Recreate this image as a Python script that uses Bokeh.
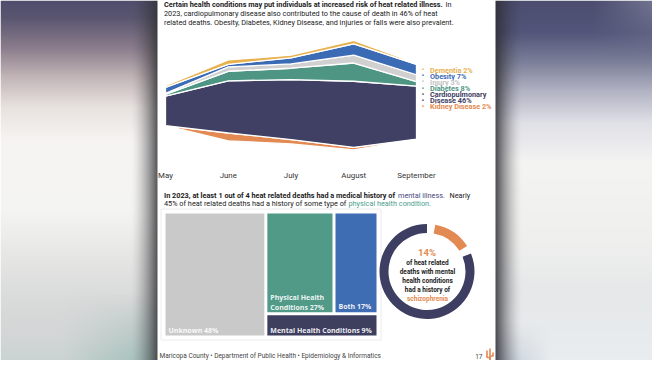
import numpy as np
from bokeh.plotting import figure
from bokeh.models import Range1d
from bokeh.core.properties import value
from bokeh.embed import file_html
from bokeh.resources import INLINE

# ---------------- data ----------------
months = ["May", "June", "July", "August", "September"]
# stream layers, bottom -> top (deaths per month)
kidney = [0, 9, 5, 3, 0]
cardio = [34, 60, 69, 76, 61]
diabetes = [2, 11, 13, 21, 5]
injury = [1, 5, 5, 9, 8]
obesity = [7, 3, 7, 13, 12]
dementia = [2, 5, 3, 4, 1]
stream_center = [-6, 0, 1, 6, -1]

legend_labels = ["Dementia 2%", "Obesity 7%", "Injury 3%", "Diabetes 8%",
                 "Cardiopulmonary", "Disease 46%", "Kidney Disease 2%"]

tree_labels = ["Unknown", "Physical Health Conditions", "Both", "Mental Health Conditions"]
tree_pct = [48, 27, 17, 9]

donut_pct = [14, 86]

# ---------------- colours ----------------
C_KID = "#e38a52"
C_CAR = "#3f4063"
C_DIA = "#4e9683"
C_INJ = "#d0d0d0"
C_OBE = "#3b6bb5"
C_DEM = "#e9b04e"
TXT = "#222222"

W, H = 652, 360
p = figure(width=W, height=H, x_range=Range1d(8, 660), y_range=Range1d(-368, -8),
           output_backend="svg", toolbar_location=None, min_border=0,
           outline_line_color=None)
p.axis.visible = False
p.grid.visible = False
p.background_fill_color = "white"
p.border_fill_color = "white"


def Y(py):
    return -py


def txt(x, y, s, size, color=TXT, bold=False, align="left", font="Roboto", alpha=1.0):
    p.text(x=[x], y=[Y(y)], text=[s], text_font=value(font), text_font_size=f"{size}px",
           text_color=color, text_font_style="bold" if bold else "normal",
           text_align=align, text_baseline="middle", text_alpha=alpha)


# ---------------- header paragraph ----------------
FS = 7.3
txt(171.5, 12.3, "Certain health conditions may put individuals at increased risk of heat related illness.", FS, bold=True)
txt(453, 12.3, "In", FS)
txt(171.5, 21.0, "2023, cardiopulmonary disease also contributed to the cause of death in 46% of heat", FS)
txt(171.5, 29.5, "related deaths. Obesity, Diabetes, Kidney Disease, and injuries or falls were also prevalent.", FS)

# ---------------- streamgraph ----------------
x0px, x4px = 173.0, 424.0
ppm = (x4px - x0px) / 4
p.extra_x_ranges = {"sx": Range1d(0 - (x0px - 8) / ppm, 4 + (660 - x4px) / ppm)}
upp = 1.15
mid = 107.9
p.extra_y_ranges = {"sy": Range1d(-(368 - mid) * upp, (mid - 8) * upp)}

layers = [(kidney, C_KID), (cardio, C_CAR), (diabetes, C_DIA),
          (injury, C_INJ), (obesity, C_OBE), (dementia, C_DEM)]
idx = list(range(len(months)))
tot = np.sum([np.array(l) for l, _ in layers], axis=0)
cum = np.array(stream_center, dtype=float) - tot / 2.0
for vals, col in layers:
    lo = cum.copy()
    hi = cum + np.array(vals, dtype=float)
    xs = idx + idx[::-1]
    ys = list(hi) + list(lo[::-1])
    p.patch(xs, ys, fill_color=col, line_color="white", line_width=1.3,
            x_range_name="sx", y_range_name="sy")
    cum = hi

p.text(x=idx, y=[Y(182.5)] * 5, text=months, x_range_name="sx",
       text_font=value("Roboto"), text_font_size="7.9px", text_color="#333333",
       text_align="center", text_baseline="middle")

# legend
leg_cols = [C_DEM, C_OBE, "#c4c4c4", C_DIA, C_CAR, C_CAR, C_KID]
for i, (lab, c) in enumerate(zip(legend_labels, leg_cols)):
    yy = 77.7 + i * 6.1
    txt(430.5, yy, "•", 6.5, color=c, bold=True, align="center")
    txt(437.5, yy, lab, 7.3, color=c, bold=True)

# ---------------- second paragraph ----------------
txt(171.5, 203.3, "In 2023, at least 1 out of 4 heat related deaths had a medical history of", FS, bold=True)
txt(405.5, 203.3, "mental illness.", FS, color="#46477e")
txt(457, 203.3, "Nearly", FS)
txt(171.5, 210.9, "45% of heat related deaths had a history of some type of", FS)
txt(356, 210.9, "physical health condition.", FS, color="#4a9e8c")

# ---------------- treemap ----------------
tx0, tx1, ty0, ty1, gap = 173.0, 384.0, 221.0, 343.0, 3.0
tot_t = float(sum(tree_pct))
uw = (tx1 - tx0 - gap) * tree_pct[0] / tot_t
rest = sum(tree_pct[1:])
mh = (ty1 - ty0 - gap) * tree_pct[3] / rest
rx0 = tx0 + uw + gap
top_row = tree_pct[1] + tree_pct[2]
pw = (tx1 - rx0 - gap) * tree_pct[1] / top_row
rects = [
    (tx0, tx0 + uw, ty0, ty1, "#c9c9c9"),
    (rx0, rx0 + pw, ty0, ty1 - mh - gap, "#519a88"),
    (rx0 + pw + gap, tx1, ty0, ty1 - mh - gap, "#3f6db3"),
    (rx0, tx1, ty1 - mh, ty1, "#3e3e5f"),
]
p.quad(left=[168.5], right=[388.5], top=[Y(216.5)], bottom=[Y(347.5)],
       fill_color=None, line_color="#ececec", line_width=1)
p.quad(left=[r[0] for r in rects], right=[r[1] for r in rects],
       top=[Y(r[2]) for r in rects], bottom=[Y(r[3]) for r in rects],
       fill_color=[r[4] for r in rects], line_color=None)
TF = 7.0
for (l, r, t, b, c), lab, v in zip(rects, tree_labels, tree_pct):
    full = f"{lab} {v}%"
    if lab.startswith("Physical"):
        txt(l + 3, b - 15, "Physical Health", TF, color="white", bold=True, font="Open Sans", alpha=0.92)
        txt(l + 3, b - 5, f"Conditions {v}%", TF, color="white", bold=True, font="Open Sans", alpha=0.92)
    else:
        txt(l + 3, b - 5.5, full, TF, color="white", bold=True, font="Open Sans", alpha=0.92)

# ---------------- donut ----------------
cx, cy = 434.5, 279.0
gap_deg = 10.0
avail = 360.0 - gap_deg * len(donut_pct)
theta = 10.0
d_cols = [C_KID, "#3d3e62"]
for v, c in zip(donut_pct, d_cols):
    t1 = theta + avail * v / 100.0
    p.annular_wedge(x=[cx], y=[Y(cy)], inner_radius=38.5, outer_radius=47.5,
                    start_angle=np.deg2rad(90 - t1), end_angle=np.deg2rad(90 - theta),
                    fill_color=c, line_color=None)
    theta = t1 + gap_deg

txt(434.5, 259.5, "14%", 9.5, color=C_KID, bold=True, align="center")
dl = ["of heat related", "deaths with mental", "health conditions", "had a history of"]
for i, s in enumerate(dl):
    txt(435, 270.0 + i * 9.1, s, 6.5, bold=True, align="center")
txt(435, 306.5, "schizophrenia", 6.5, color=C_KID, bold=True, align="center")

# ---------------- footer ----------------
txt(167, 363.5, "Maricopa County • Department of Public Health • Epidemiology & Informatics", 6.5,
    color="#444444")
txt(490, 363.5, "17", 6.5, color="#444444", align="right")
p.multi_line(xs=[[494.5, 494.5, 497.5, 497.5], [497.5, 497.5], [500.5, 500.5, 497.5]],
             ys=[[Y(358), Y(365), Y(365), Y(368)], [Y(356), Y(368)], [Y(360), Y(363.5), Y(363.5)]],
             line_color=C_KID, line_width=1.6)


# ---------------- blurred photo background at the sides ----------------
def hex2rgb(h):
    h = h.lstrip("#")
    return np.array([int(h[i:i + 2], 16) for i in (0, 2, 4)], dtype=float)


def grad(stops, ys):
    sy = np.array([s[0] for s in stops], dtype=float)
    cols = np.array([hex2rgb(s[1]) for s in stops])
    return np.stack([np.interp(ys, sy, cols[:, k]) for k in range(3)], axis=-1)


def to_img(rgb):
    h, w, _ = rgb.shape
    img = np.empty((h, w), dtype=np.uint32)
    v = img.view(dtype=np.uint8).reshape((h, w, 4))
    v[..., :3] = np.clip(rgb, 0, 255).astype(np.uint8)
    v[..., 3] = 255
    return img[::-1]


py = np.arange(8, 368) + 0.5

# left side
lx = np.arange(8, 165) + 0.5
left_stops = [(0, "#4a4a6b"), (25, "#5a5670"), (55, "#8a7c8c"), (85, "#c3b6b8"),
              (115, "#e9e3e0"), (150, "#f7f5f3"), (220, "#f4f4f2"), (265, "#e6e6e5"),
              (305, "#dadbdb"), (345, "#d3d6d6"), (376, "#c8d3d1")]
base = grad(left_stops, py)[:, None, :] * np.ones((1, len(lx), 1))
tt = (np.clip((py - 300) / 70, 0, 1)[:, None] * np.clip((lx - 70) / 75, 0, 1)[None, :])[..., None]
base = base * (1 - 0.55 * tt) + hex2rgb("#8ab3aa") * 0.55 * tt
sh = (np.clip((lx - 138) / 27.0, 0, 1) ** 1.6 * 0.82)[None, :, None]
base = base * (1 - sh) + hex2rgb("#323236") * sh
p.image_rgba(image=[to_img(base)], x=8, y=-368, dw=157, dh=360)

# right side
rx = np.arange(503, 660) + 0.5
right_stops = [(0, "#4a4b6c"), (40, "#53557a"), (70, "#7d8099"), (100, "#b4b5c5"),
               (130, "#e0e0e7"), (170, "#f4f4f3"), (250, "#efefee"), (300, "#e6e8e9"),
               (376, "#eaeef1")]
base = grad(right_stops, py)[:, None, :] * np.ones((1, len(rx), 1))
tr = (np.clip((60 - py) / 60, 0, 1)[:, None] * np.clip((rx - 600) / 60, 0, 1)[None, :])[..., None]
base = base * (1 - 0.45 * tr) + hex2rgb("#b0b2c4") * 0.45 * tr
bl = (np.clip((py - 330) / 40, 0, 1)[:, None] * np.clip((560 - rx) / 50, 0, 1)[None, :])[..., None]
base = base * (1 - 0.35 * bl) + hex2rgb("#7d8ca8") * 0.35 * bl
sh = (np.clip((530 - rx) / 27.0, 0, 1) ** 1.6 * 0.85)[None, :, None]
base = base * (1 - sh) + hex2rgb("#2e2e34") * sh
p.image_rgba(image=[to_img(base)], x=503, y=-368, dw=157, dh=360)

open("out.html", "w").write(file_html(p, INLINE))
